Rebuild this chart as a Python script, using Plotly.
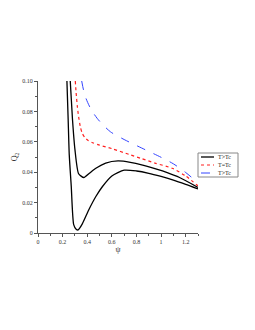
import plotly.graph_objects as go

# Series data
psi_low = [0.235, 0.245, 0.254, 0.27, 0.29, 0.31, 0.326, 0.36, 0.413, 0.47, 0.524,
           0.6, 0.7, 0.8, 0.9, 1.0, 1.1, 1.2, 1.3]
q_low = [0.100, 0.075, 0.0514, 0.031, 0.0055, 0.0025, 0.002, 0.006, 0.0153, 0.024,
         0.0306, 0.0375, 0.0413, 0.0408, 0.0393, 0.0372, 0.0348, 0.032, 0.029]

psi_up = [0.262, 0.28, 0.30, 0.33, 0.372, 0.42, 0.47, 0.55, 0.65, 0.75, 0.85, 0.95,
          1.05, 1.15, 1.3]
q_up = [0.100, 0.075, 0.055, 0.039, 0.0365, 0.0395, 0.0426, 0.046, 0.0474, 0.0465,
        0.0447, 0.0423, 0.0397, 0.0365, 0.030]

psi_red = [0.303, 0.31, 0.32, 0.33, 0.345, 0.36, 0.38, 0.41, 0.45, 0.5, 0.6, 0.74,
           0.84, 0.95, 1.09, 1.2, 1.3]
q_red = [0.100, 0.092, 0.083, 0.0765, 0.0695, 0.0655, 0.0628, 0.0607, 0.0592, 0.0578,
         0.0555, 0.0517, 0.049, 0.046, 0.0426, 0.0375, 0.031]

psi_blue = [0.355, 0.37, 0.39, 0.43, 0.48, 0.53, 0.59, 0.7, 0.84, 1.0, 1.1, 1.2, 1.3]
q_blue = [0.100, 0.094, 0.0885, 0.0815, 0.0755, 0.071, 0.0665, 0.0615, 0.056, 0.0498,
          0.0455, 0.0398, 0.033]

x_ticks = [0, 0.2, 0.4, 0.6, 0.8, 1.0, 1.2]
x_labels = ["0", "0.2", "0.4", "0.6", "0.8", "1", "1.2"]
y_ticks = [0, 0.02, 0.04, 0.06, 0.08, 0.10]
y_labels = ["0", "0.02", "0.04", "0.06", "0.08", "0.10"]
legend_names = ["T>Tc", "T=Tc", "T>Tc"]

FONT = "Liberation Serif, Times New Roman, serif"

BLACK = dict(color="black", width=1.3, shape="spline", smoothing=0.6)
RED = dict(color="#ff2020", width=1.2, dash="dot", shape="spline", smoothing=0.6)
BLUE = dict(color="#3344ff", width=1.0, dash="dash", shape="spline", smoothing=0.8)

fig = go.Figure()
fig.add_trace(go.Scatter(x=psi_low, y=q_low, mode="lines", name=legend_names[0], line=BLACK))
fig.add_trace(go.Scatter(x=psi_up, y=q_up, mode="lines", name=legend_names[0], line=BLACK))
fig.add_trace(go.Scatter(x=psi_red, y=q_red, mode="lines", name=legend_names[1], line=RED))
fig.add_trace(go.Scatter(x=psi_blue, y=q_blue, mode="lines", name=legend_names[2], line=BLUE))

axis_common = dict(
    showgrid=False, zeroline=False, showline=True, linecolor="#555555", linewidth=1,
    ticks="outside", ticklen=3, tickwidth=1, tickcolor="#555555", automargin=False,
    tickfont=dict(family=FONT, size=6, color="#333333"),
)

# plot area: pixels x 38..198, y 81..233 ; figure margins l=38, r=5, t=81, b=97
L, R, T, B = 38, 5, 81, 97
PW = 255 - L - R
PH = 330 - T - B
x_dom_end = (198 - L) / PW

fig.update_xaxes(range=[0, 1.3], tickvals=x_ticks, ticktext=x_labels, domain=[0, x_dom_end],
                 minor=dict(dtick=0.1, ticks="outside", ticklen=2, tickcolor="#555555"),
                 title=dict(text="ψ", font=dict(family=FONT, size=8, color="#333333"), standoff=2),
                 **axis_common)
fig.update_yaxes(range=[0, 0.1], tickvals=y_ticks, ticktext=y_labels,
                 minor=dict(dtick=0.01, ticks="outside", ticklen=2, tickcolor="#555555"),
                 title=dict(text="Q<sub>2</sub>", font=dict(family=FONT, size=8, color="#333333"), standoff=3),
                 **axis_common)


def px(xp):
    return (xp - L) / PW


def py(yp):
    return (330 - B - yp) / PH


# Compact legend box (drawn in paper coordinates)
shapes = [dict(type="rect", xref="paper", yref="paper", x0=px(198), x1=px(238),
               y0=py(177), y1=py(153), line=dict(color="#888888", width=1),
               fillcolor="white", layer="above")]
annotations = []
styles = [BLACK, RED, BLUE]
rows = [157, 165, 173]
for name, st, ry in zip(legend_names, styles, rows):
    shapes.append(dict(type="line", xref="paper", yref="paper", x0=px(201), x1=px(214),
                       y0=py(ry), y1=py(ry), layer="above",
                       line=dict(color=st["color"], width=st["width"], dash=st.get("dash", "solid"))))
    annotations.append(dict(text=name, xref="paper", yref="paper", x=px(216), y=py(ry),
                            xanchor="left", yanchor="middle", showarrow=False,
                            font=dict(family=FONT, size=6, color="#222222")))

fig.update_layout(
    width=255, height=330,
    margin=dict(l=L, r=R, t=T, b=B),
    paper_bgcolor="white", plot_bgcolor="white",
    showlegend=False,
    shapes=shapes, annotations=annotations,
)

fig.write_html("out.html", config={"displayModeBar": False},
               post_script="document.body.style.margin='0';")
